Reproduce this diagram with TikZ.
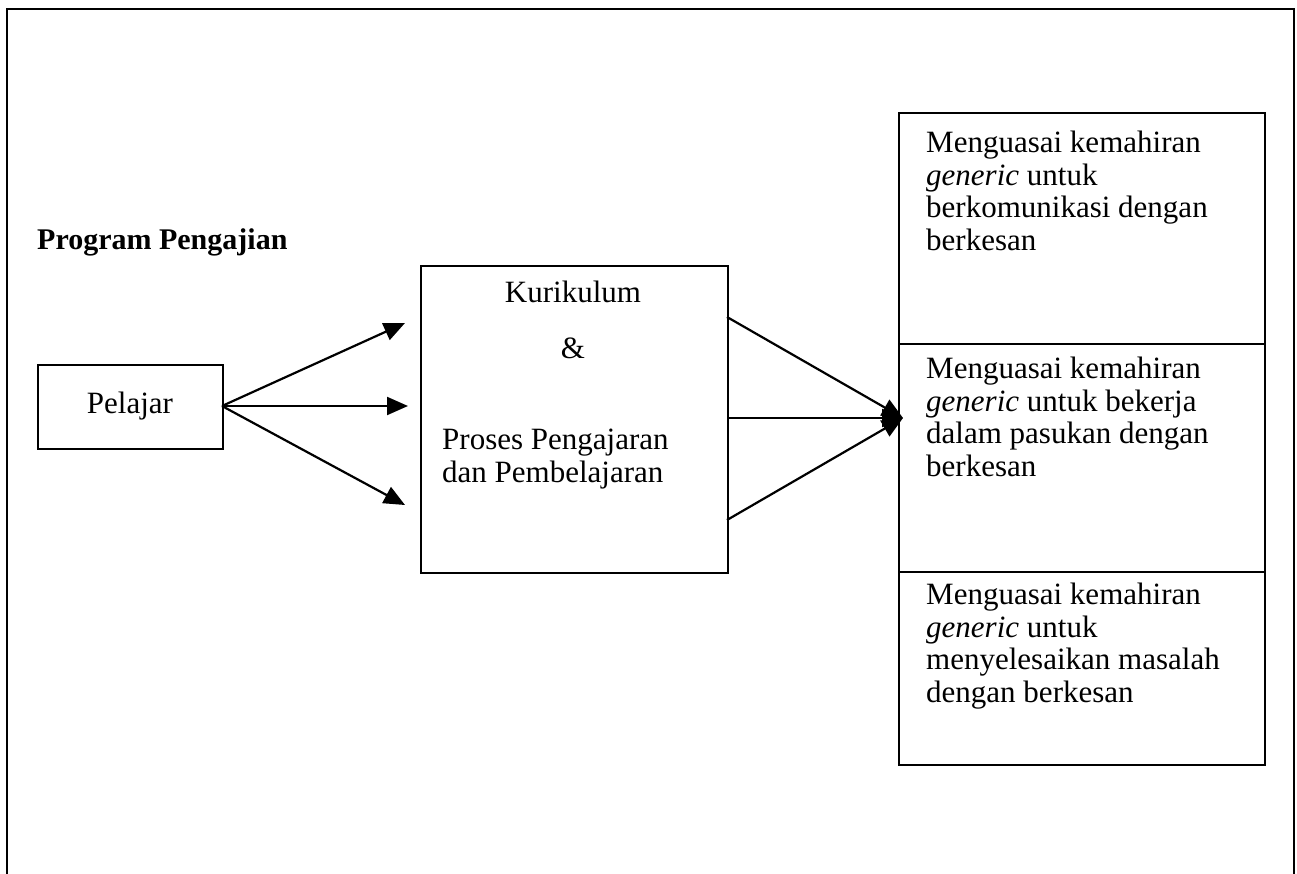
\documentclass[tikz,border=0pt]{standalone}
\usepackage{fontspec}
\setmainfont{Liberation Serif}
\usetikzlibrary{arrows.meta}
\begin{document}
\begin{tikzpicture}[x=1pt,y=-1pt,
  every node/.style={font=\fontsize{31}{32.5}\selectfont},
  box/.style={draw, line width=1.6pt, inner sep=0pt, anchor=north west},
  txt/.style={inner sep=0pt, align=left},
  arr/.style={line width=2.2pt, -{Triangle[length=21pt,width=18pt]}}]
\useasboundingbox (0,0) rectangle (1297,874);
% outer frame
\draw[line width=2pt] (7,874) -- (7,9) -- (1294,9) -- (1294,874);
% title
\node[txt, anchor=west, font=\fontsize{30}{32}\selectfont\bfseries] (title) at (37,242) {Program Pengajian};
% Pelajar
\node[box, minimum width=185pt, minimum height=84pt] (pel) at (37,364) {};
\node[txt] (peltxt) at (130,406) {Pelajar};
% middle box
\node[box, minimum width=307pt, minimum height=307pt] (mid) at (420,265) {};
\node[txt] (kur) at (573,292) {Kurikulum};
\node[txt] (amp) at (573,348) {\&};
\node[txt, anchor=north west] (proses) at (442,429) {Proses Pengajaran\\dan Pembelajaran};
% right boxes
\node[box, minimum width=366pt, minimum height=231pt] (r1) at (898,112) {};
\node[box, minimum width=366pt, minimum height=228pt] (r2) at (898,343) {};
\node[box, minimum width=366pt, minimum height=193pt] (r3) at (898,571) {};
\node[txt, anchor=north west] (t1) at (926,131) {Menguasai kemahiran\\\textit{generic} untuk\\berkomunikasi dengan\\berkesan};
\node[txt, anchor=north west] (t2) at (926,357) {Menguasai kemahiran\\\textit{generic} untuk bekerja\\dalam pasukan dengan\\berkesan};
\node[txt, anchor=north west] (t3) at (926,583) {Menguasai kemahiran\\\textit{generic} untuk\\menyelesaikan masalah\\dengan berkesan};
% arrow points
\coordinate (pout) at (222,406);
\coordinate (a1) at (405,323);
\coordinate (a2) at (408,406);
\coordinate (a3) at (405,505);
\coordinate (m1) at (727,317);
\coordinate (m2) at (727,418);
\coordinate (m3) at (727,520);
\coordinate (tip) at (903,418);
\draw[arr] (pout) -- (a1);
\draw[arr] (pout) -- (a2);
\draw[arr] (pout) -- (a3);
\draw[arr] (m1) -- (tip);
\draw[arr] (m2) -- (tip);
\draw[arr] (m3) -- (tip);
\end{tikzpicture}
\end{document}
